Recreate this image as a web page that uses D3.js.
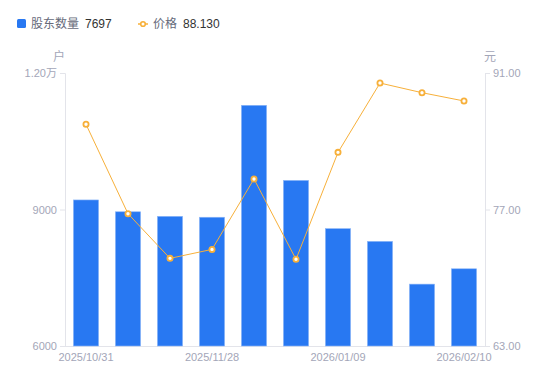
<!DOCTYPE html>
<html>
<head>
<meta charset="utf-8">
<script src="https://cdn.jsdelivr.net/npm/d3@7/dist/d3.min.js"></script>
<style>
  body { margin: 0; background: #fff; }
  svg { font-family: "Liberation Sans", "Noto Sans CJK SC", sans-serif; }
</style>
</head>
<body>
<div id="chart"></div>
<script>
// data
var dates = ["2025/10/31", "2025/11/10", "2025/11/20", "2025/11/28", "2025/12/10",
             "2025/12/19", "2026/01/09", "2026/01/20", "2026/01/30", "2026/02/10"];
var holders = [9210, 8950, 8850, 8830, 11290, 9640, 8580, 8300, 7360, 7697];
var prices = [85.74, 76.57, 71.99, 72.91, 80.13, 71.89, 82.86, 89.97, 88.98, 88.13];
var leftTicks = [6000, 9000, 12000];
var rightTicks = [63, 77, 91];
var shownDates = ["2025/10/31", "2025/11/28", "2026/01/09", "2026/02/10"];

var W = 550, H = 381;
var margin = {top: 73, right: 65, bottom: 35, left: 65};
var innerW = W - margin.left - margin.right,
    innerH = H - margin.top - margin.bottom;

var barColor = "#2878f2", lineColor = "#f7b03a", axisColor = "#e3e4ea", labelColor = "#a3a6b8";

var svg = d3.select("#chart").append("svg")
  .attr("width", W).attr("height", H);

var g = svg.append("g")
  .attr("transform", "translate(" + margin.left + "," + margin.top + ")");

var x = d3.scaleBand().domain(dates).range([0, innerW]).paddingInner(0.4).paddingOuter(0.2);
var xc = function(d) { return x(d) + x.bandwidth() / 2; };
var yL = d3.scaleLinear().domain([6000, 12000]).range([innerH, 0]);
var yR = d3.scaleLinear().domain([63, 91]).range([innerH, 0]);

// axes
var leftAxis = d3.axisLeft(yL).tickValues(leftTicks).tickSize(5).tickPadding(3)
  .tickFormat(function(d) { return d >= 10000 ? (d / 10000).toFixed(2) + "万" : d; });
var rightAxis = d3.axisRight(yR).tickValues(rightTicks).tickSize(5).tickPadding(3)
  .tickFormat(function(d) { return d.toFixed(2); });
var bottomAxis = d3.axisBottom(x).tickValues(shownDates).tickSize(0).tickPadding(7);

function styleAxis(sel) {
  sel.selectAll("path, line").attr("stroke", axisColor);
  sel.selectAll("text").attr("fill", labelColor).style("font-size", "11px")
    .style("font-family", "'Liberation Sans', 'Noto Sans CJK SC', sans-serif");
}

g.append("g").call(leftAxis).call(styleAxis);
g.append("g").attr("transform", "translate(" + innerW + ",0)").call(rightAxis).call(styleAxis);
g.append("g").attr("transform", "translate(0," + innerH + ")").call(bottomAxis).call(styleAxis)
  .select(".domain").attr("d", "M0,0.5H" + innerW);
g.selectAll(".domain").attr("stroke", axisColor);

// axis names
g.append("text").attr("x", -6).attr("y", -12).attr("text-anchor", "middle")
  .attr("fill", labelColor).style("font-size", "12px").text("户");
g.append("text").attr("x", innerW + 5).attr("y", -12).attr("text-anchor", "middle")
  .attr("fill", labelColor).style("font-size", "12px").text("元");

// bars
g.selectAll(".bar").data(dates).enter().append("rect")
  .attr("class", "bar")
  .attr("x", function(d) { return x(d); })
  .attr("y", function(d, i) { return yL(holders[i]); })
  .attr("width", x.bandwidth())
  .attr("height", function(d, i) { return innerH - yL(holders[i]); })
  .attr("fill", barColor)
  .attr("stroke", "#8fb8f7").attr("stroke-width", 0.6);

// price line
var line = d3.line()
  .x(function(d, i) { return xc(dates[i]); })
  .y(function(d) { return yR(d); });

g.append("path").datum(prices)
  .attr("d", line).attr("fill", "none")
  .attr("stroke", lineColor).attr("stroke-width", 1);

g.selectAll(".dot").data(prices).enter().append("circle")
  .attr("cx", function(d, i) { return xc(dates[i]); })
  .attr("cy", function(d) { return yR(d); })
  .attr("r", 2.6)
  .attr("fill", "#fff").attr("stroke", lineColor).attr("stroke-width", 1.8);

// legend
var lg = svg.append("g").style("font-size", "12px");
lg.append("rect").attr("x", 17).attr("y", 19).attr("width", 9).attr("height", 9)
  .attr("rx", 1.5).attr("fill", barColor);
lg.append("text").attr("x", 31).attr("y", 28).attr("fill", "#666a7a")
  .style("font-family", "'Noto Sans CJK SC', sans-serif").text("股东数量");
lg.append("text").attr("x", 85).attr("y", 28).attr("fill", "#333").text(holders[holders.length - 1]);

lg.append("line").attr("x1", 138).attr("x2", 148).attr("y1", 24).attr("y2", 24)
  .attr("stroke", lineColor).attr("stroke-width", 1.5);
lg.append("circle").attr("cx", 143).attr("cy", 24).attr("r", 2.3)
  .attr("fill", "#fff").attr("stroke", lineColor).attr("stroke-width", 1.6);
lg.append("text").attr("x", 153).attr("y", 28).attr("fill", "#666a7a")
  .style("font-family", "'Noto Sans CJK SC', sans-serif").text("价格");
lg.append("text").attr("x", 183).attr("y", 28).attr("fill", "#333").text(prices[prices.length - 1].toFixed(3));
</script>
</body>
</html>
